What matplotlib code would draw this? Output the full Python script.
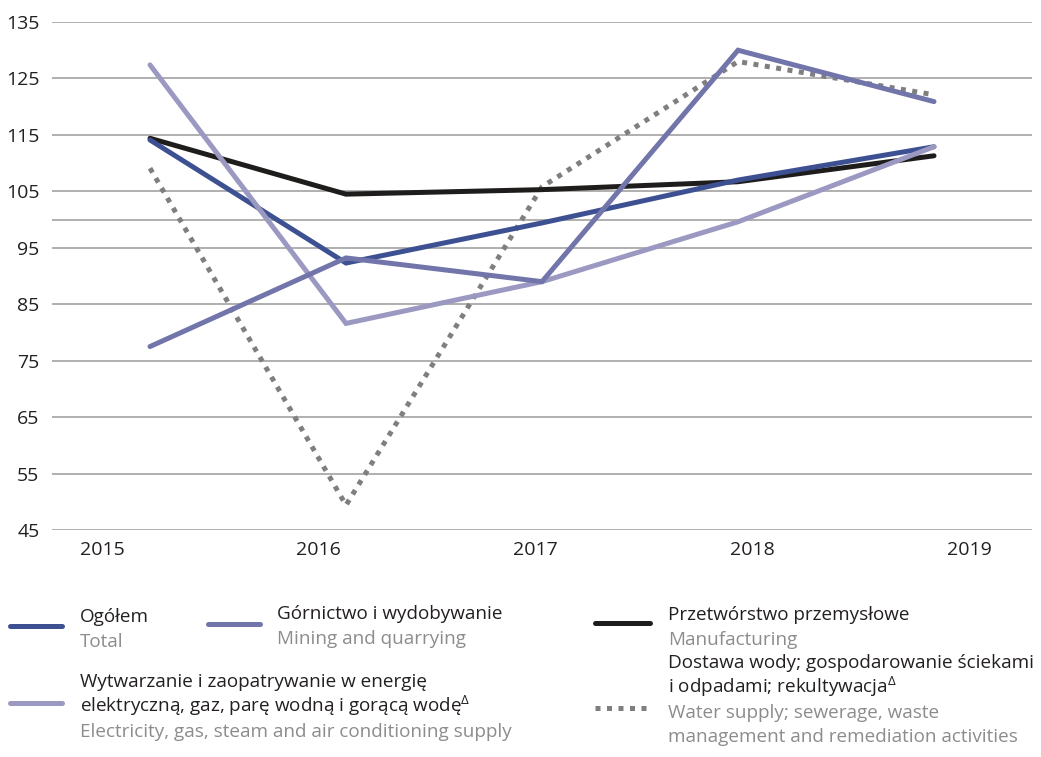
import numpy as np
import matplotlib.pyplot as plt
from matplotlib.lines import Line2D

plt.rcParams['font.family'] = ['Open Sans', 'DejaVu Sans']
plt.rcParams['mathtext.fontset'] = 'custom'
plt.rcParams['mathtext.rm'] = 'Open Sans'

# ==========================
# Data
# ==========================
years = ["2015", "2016", "2017", "2018", "2019"]

total = [114.1, 92.3, 99.4, 107.0, 112.9]
mining = [77.5, 93.2, 89.0, 130.0, 120.9]
manufacturing = [114.4, 104.5, 105.3, 106.7, 111.3]
electricity = [127.4, 81.6, 89.0, 99.6, 112.9]
water = [109.1, 49.4, 105.8, 128.0, 122.1]

y_ticks = [45, 55, 65, 75, 85, 95, 105, 115, 125, 135]

# ==========================
# Styles
# ==========================
c_total = "#3d5192"
c_mining = "#7175a9"
c_manuf = "#1f1c1c"
c_elec = "#9b99c1"
c_water = "#7f7f7f"
c_grey_text = "#8c8c8c"
c_text = "#231f20"

W, H = 1041, 757
fig = plt.figure(figsize=(W / 100, H / 100), dpi=100)
ax = fig.add_axes([52 / W, 1 - 530 / H, 980 / W, 508 / H])

x = np.arange(len(years))
lw = 3.6

for v in y_ticks + [100]:
    ax.axhline(v, color="#9a9a9a", lw=1.1, zorder=0)

ax.plot(x, water, color=c_water, lw=lw, linestyle=(0, (1, 1.3)),
        dash_capstyle="butt", zorder=2)
ax.plot(x, manufacturing, color=c_manuf, lw=lw, solid_capstyle="round",
        solid_joinstyle="miter", zorder=3)
ax.plot(x, total, color=c_total, lw=lw, solid_capstyle="round",
        solid_joinstyle="miter", zorder=4)
ax.plot(x, electricity, color=c_elec, lw=lw, solid_capstyle="round",
        solid_joinstyle="miter", zorder=5)
ax.plot(x, mining, color=c_mining, lw=lw, solid_capstyle="round",
        solid_joinstyle="miter", zorder=6)

ax.set_xlim(-0.5, 4.5)
ax.set_ylim(45, 135)
ax.set_yticks(y_ticks)
ax.set_yticklabels([str(v) for v in y_ticks])
ax.set_xticks(np.linspace(-0.245, 4.18, len(years)))
ax.set_xticklabels(years)
ax.tick_params(axis="both", length=0, labelsize=14, colors=c_text)
ax.tick_params(axis="y", pad=9)
ax.tick_params(axis="x", pad=8)
for s in ax.spines.values():
    s.set_visible(False)

# ==========================
# Legend
# ==========================
def fx(px):
    return px / W


def fy(py):
    return 1 - py / H


def swatch(x0, x1, y, color, dotted=False):
    if dotted:
        ln = Line2D([fx(x0), fx(x1)], [fy(y), fy(y)], color=color, lw=lw,
                    linestyle=(0, (1, 1.3)), dash_capstyle="butt")
    else:
        ln = Line2D([fx(x0), fx(x1)], [fy(y), fy(y)], color=color, lw=lw,
                    solid_capstyle="round")
    fig.add_artist(ln)


def label(px, py, s, grey=False):
    fig.text(fx(px), fy(py), s, fontsize=13.6, va="baseline", ha="left",
             color=c_grey_text if grey else c_text)


swatch(10, 62, 626, c_total)
label(80, 622, "Ogółem")
label(80, 647, "Total", grey=True)

swatch(208, 260, 624, c_mining)
label(277, 619, "Górnictwo i wydobywanie")
label(277, 644, "Mining and quarrying", grey=True)

swatch(595, 650, 623, c_manuf)
label(668, 620, "Przetwórstwo przemysłowe")
label(668, 645, "Manufacturing", grey=True)

swatch(10, 62, 703, c_elec)
label(80, 687, "Wytwarzanie i zaopatrywanie w energię")
label(80, 712, r"elektryczną, gaz, parę wodną i gorącą wodę$^{\Delta}$")
label(80, 737, "Electricity, gas, steam and air conditioning supply", grey=True)

swatch(595, 650, 708, c_water, dotted=True)
label(668, 668, "Dostawa wody; gospodarowanie ściekami")
label(668, 693, r"i odpadami; rekultywacja$^{\Delta}$")
label(668, 718, "Water supply; sewerage, waste", grey=True)
label(668, 742, "management and remediation activities", grey=True)

fig.savefig("out.png", dpi=100)
